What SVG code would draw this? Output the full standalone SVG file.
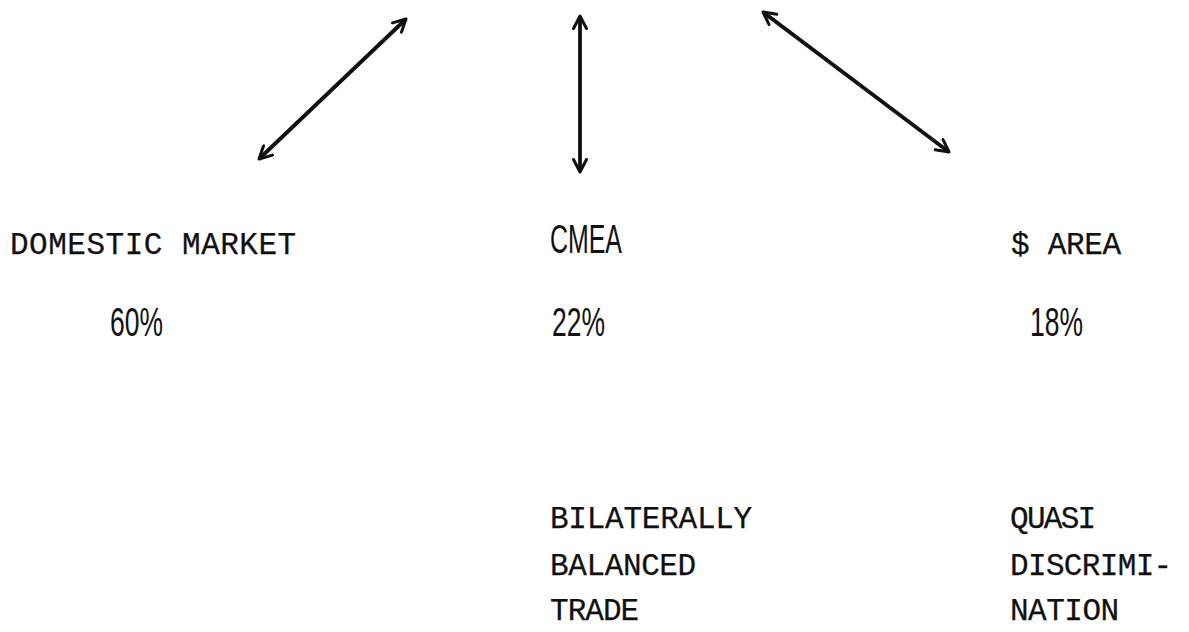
<svg xmlns="http://www.w3.org/2000/svg" width="1189" height="632" viewBox="0 0 1189 632">
<style>
.mono{font-family:"Liberation Mono","DejaVu Sans Mono",monospace;font-size:31px;letter-spacing:0.8px;fill:#111;stroke:#111;stroke-width:0.25}
.narrow{font-family:"Liberation Sans","DejaVu Sans",sans-serif;font-size:41px;fill:#111}
.arrow{stroke:#111;stroke-width:3.8;fill:none;marker-start:url(#head);marker-end:url(#head)}
</style>
<defs>
<marker id="head" viewBox="0 0 16 16" refX="14" refY="8" markerWidth="16" markerHeight="16" markerUnits="userSpaceOnUse" orient="auto-start-reverse">
<path d="M1.5,1.5 L14,8 L1.5,14.5" fill="none" stroke="#111" stroke-width="3" stroke-linecap="round" stroke-linejoin="round"/>
</marker>
</defs>
<rect width="1189" height="632" fill="#fff"/>
<g id="connectors">
<line class="arrow" x1="259" y1="159" x2="406" y2="19"/>
<line class="arrow" x1="580" y1="172" x2="580" y2="16"/>
<line class="arrow" x1="949" y1="152" x2="763" y2="12"/>
</g>
<g id="domestic">
<text class="mono" x="10" y="254" textLength="287" lengthAdjust="spacing">DOMESTIC MARKET</text>
<text class="narrow" x="110" y="336" textLength="53" lengthAdjust="spacingAndGlyphs">60%</text>
</g>
<g id="cmea">
<text class="narrow" x="550" y="253" textLength="72" lengthAdjust="spacingAndGlyphs">CMEA</text>
<text class="narrow" x="552" y="336" textLength="53" lengthAdjust="spacingAndGlyphs">22%</text>
<text class="mono" x="550" y="528" textLength="203" lengthAdjust="spacing">BILATERALLY</text>
<text class="mono" x="550" y="575" textLength="147" lengthAdjust="spacing">BALANCED</text>
<text class="mono" x="550" y="620" textLength="90" lengthAdjust="spacing">TRADE</text>
</g>
<g id="dollar">
<text class="mono" x="1011" y="254" textLength="111" lengthAdjust="spacing">$ AREA</text>
<text class="narrow" x="1030" y="336" textLength="53" lengthAdjust="spacingAndGlyphs">18%</text>
<text class="mono" x="1010" y="528" textLength="87" lengthAdjust="spacing">QUASI</text>
<text class="mono" x="1010" y="575" textLength="163" lengthAdjust="spacing">DISCRIMI-</text>
<text class="mono" x="1010" y="620" textLength="110" lengthAdjust="spacing">NATION</text>
</g>
</svg>
